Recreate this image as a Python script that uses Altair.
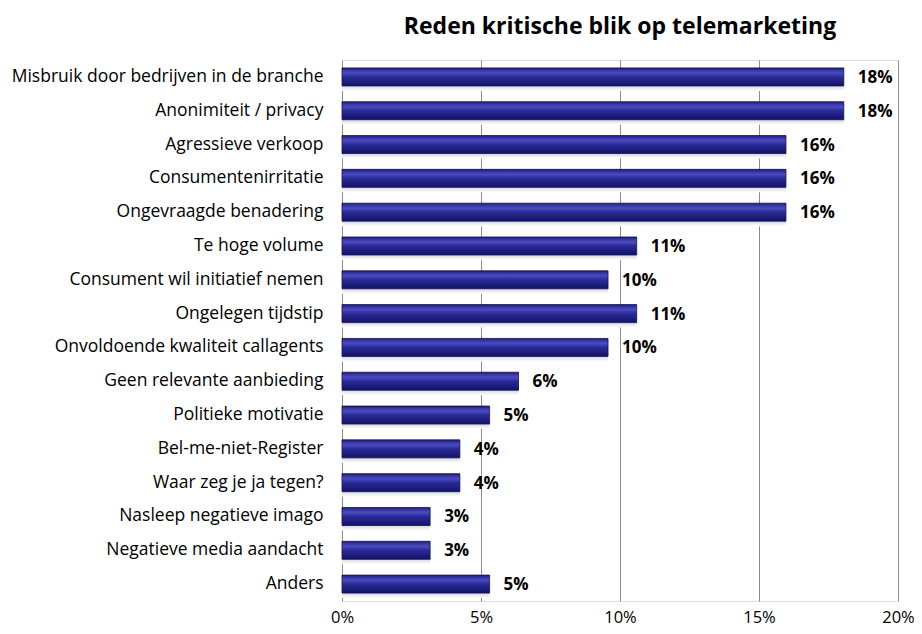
import altair as alt
import pandas as pd

categories = [
    "Misbruik door bedrijven in de branche",
    "Anonimiteit / privacy",
    "Agressieve verkoop",
    "Consumentenirritatie",
    "Ongevraagde benadering",
    "Te hoge volume",
    "Consument wil initiatief nemen",
    "Ongelegen tijdstip",
    "Onvoldoende kwaliteit callagents",
    "Geen relevante aanbieding",
    "Politieke motivatie",
    "Bel-me-niet-Register",
    "Waar zeg je ja tegen?",
    "Nasleep negatieve imago",
    "Negatieve media aandacht",
    "Anders",
]
values = [0.1805, 0.1805, 0.1597, 0.1597, 0.1597, 0.106, 0.0957, 0.106, 0.0957,
          0.0635, 0.0531, 0.0424, 0.0424, 0.0317, 0.0317, 0.0531]
labels = ["18%", "18%", "16%", "16%", "16%", "11%", "10%", "11%", "10%",
          "6%", "5%", "4%", "4%", "3%", "3%", "5%"]

df = pd.DataFrame({"cat": categories, "val": values, "lab": labels})

FONT = "Open Sans"

y_enc = alt.Y("cat:N", sort=categories, title=None,
              scale=alt.Scale(paddingInner=0, paddingOuter=0),
              axis=alt.Axis(labelFont=FONT, labelFontSize=17.5, labelColor="#000000",
                            labelPadding=19, ticks=False, domain=False, labelLimit=400))
x_enc = alt.X("val:Q", title=None,
              scale=alt.Scale(domain=[0, 0.2], nice=False),
              axis=alt.Axis(format=".0%", values=[0, 0.05, 0.1, 0.15, 0.2],
                            labelFont=FONT, labelFontSize=16.5, labelColor="#000000",
                            labelPadding=8, ticks=False, domain=False, labelFlush=False,
                            grid=True, gridColor="#8c8c8c", gridWidth=1))

base = alt.Chart(df)

shadow = base.mark_bar(
    size=10, yOffset=9,
    color=alt.LinearGradient(gradient="linear", x1=0, y1=0, x2=0, y2=1,
                             stops=[alt.GradientStop(offset=0, color="#b0b0b0"),
                                    alt.GradientStop(offset=1, color="#ffffff")])
).encode(x=x_enc, y=y_enc)

bars = base.mark_bar(
    size=18,
    color=alt.LinearGradient(gradient="linear", x1=0, y1=0, x2=0, y2=1,
                             stops=[alt.GradientStop(offset=0, color="#1a1a78"),
                                    alt.GradientStop(offset=0.12, color="#3434a4"),
                                    alt.GradientStop(offset=0.28, color="#4b4bbd"),
                                    alt.GradientStop(offset=0.5, color="#2a2a98"),
                                    alt.GradientStop(offset=1, color="#131366")]),
    stroke="#12125a", strokeWidth=0.8
).encode(x=x_enc, y=y_enc)

text = base.mark_text(align="left", baseline="middle", dx=14, dy=1,
                      font=FONT, fontSize=17, fontWeight="bold", color="#000000"
                      ).encode(x="val:Q", y=alt.Y("cat:N", sort=categories), text="lab:N")

chart = alt.layer(shadow, bars, text).properties(
    width=556, height=541,
    title=alt.TitleParams("Reden kritische blik op telemarketing", font=FONT,
                          fontSize=23, fontWeight="bold", color="#000000",
                          anchor="middle", offset=21),
    autosize=alt.AutoSizeParams(type="none"),
    padding={"left": 334, "top": 52, "right": 16, "bottom": 25},
).configure_view(stroke=None).configure(background="#ffffff")

chart.save("out.html", embed_options={"renderer": "svg", "actions": False})
